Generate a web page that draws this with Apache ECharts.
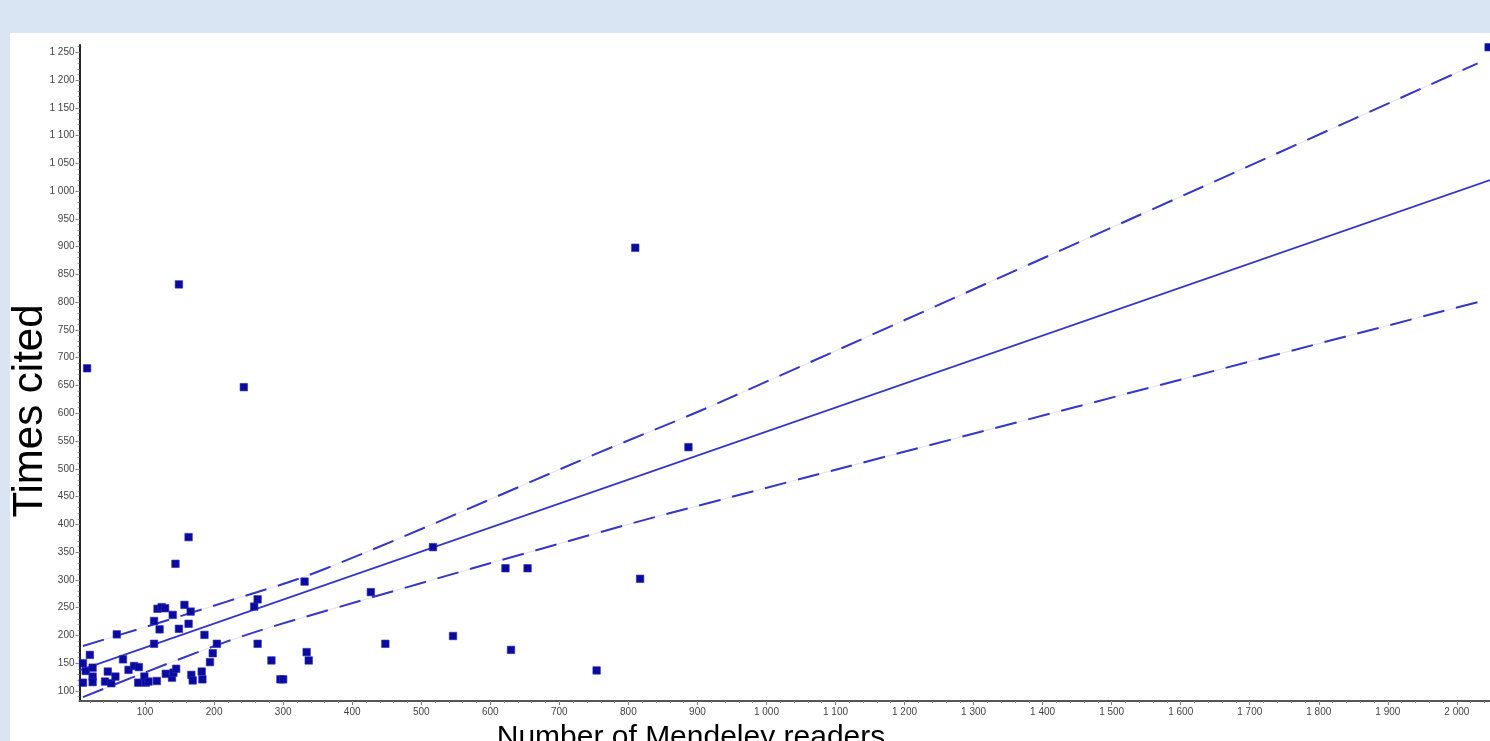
<!DOCTYPE html>
<html>
<head>
<meta charset="utf-8">
<script src="https://cdn.jsdelivr.net/npm/echarts@6/dist/echarts.min.js"></script>
<style>
html,body{margin:0;padding:0;background:#dae5f4;}
#c{width:1490px;height:741px;}
</style>
</head>
<body>
<div id="c"></div>
<script>
// Scatter points: [Mendeley readers, Times cited]
var points = [
  [10,150],[10,115],[14,136],[20,165],[24,142],[24,126],[24,116],[42,117],[46,135],[51,114],
  [57,126],[59,202],[68,157],[76,138],[84,145],[91,143],[90,115],[99,126],[101,115],[105,117],
  [113,185],[113,226],[117,118],[121,211],[118,248],[124,251],[129,249],[130,131],[140,237],[139,124],
  [141,133],[145,140],[144,329],[149,212],[157,255],[163,377],[163,221],[166,243],[167,129],[169,119],
  [182,135],[183,121],[186,201],[194,152],[198,168],[204,185],[258,252],[263,265],[263,185],[283,155],
  [296,121],[300,121],[331,297],[334,170],[337,155],[16,681],[149,832],[243,647],[810,898],[2046,1259],
  [887,539],[817,302],[517,359],[622,321],[654,321],[754,137],[630,174],[546,199],[448,185],[427,278]
];
// Regression line and confidence bands
var fitLine = [[5,137],[2048,1020]];
var upperBand = [[10,181],[216,260],[361,320],[759,530],[933,620],[2030,1230]];
var lowerBand = [[10,89],[216,188],[361,244],[759,386],[933,444],[2030,800]];
// Tick values
var xTicks = [100,200,300,400,500,600,700,800,900,1000,1100,1200,1300,1400,1500,1600,1700,1800,1900,2000];
var yTicks = [100,150,200,250,300,350,400,450,500,550,600,650,700,750,800,850,900,950,1000,1050,1100,1150,1200,1250];
var xMinorTicks = []; for (var i = 20; i <= 2040; i += 20) xMinorTicks.push(i);
var yMinorTicks = []; for (var j = 90; j <= 1260; j += 10) yMinorTicks.push(j);

var xMin = 5, xMax = 2048, yMin = 82, yMax = 1263;

function fmt(v){ return String(v).replace(/\B(?=(\d{3})+(?!\d))/g, ' '); }

var chart = echarts.init(document.getElementById('c'));
var lineColor = '#3535c8';
chart.setOption({
  animation: false,
  backgroundColor: '#dae5f4',
  graphic: [
    {type:'rect', z:-100, shape:{x:10,y:33,width:1480,height:708}, style:{fill:'#ffffff'}, silent:true},
    {type:'text', x:30, y:411, rotation:Math.PI/2, silent:true,
      style:{text:'Times cited', font:'42px "Liberation Sans", Arial, sans-serif', fill:'#000', align:'center', verticalAlign:'middle'}},
    {type:'text', x:691, y:723, silent:true,
      style:{text:'Number of Mendeley readers', font:'30px "Liberation Sans", Arial, sans-serif', fill:'#000', align:'center', verticalAlign:'top'}}
  ],
  grid: {left:79.5, right:0, top:45, bottom:40, containLabel:false},
  xAxis: [
    {type:'value', min:xMin, max:xMax, position:'bottom',
      axisLine:{show:true, lineStyle:{color:'#555', width:2}},
      axisTick:{show:true, customValues:xTicks, length:4, lineStyle:{color:'#777'}},
      axisLabel:{show:true, customValues:xTicks, formatter:fmt, fontSize:10, color:'#444', margin:6, fontFamily:'"Liberation Sans", Arial, sans-serif'},
      splitLine:{show:false}},
    {type:'value', min:xMin, max:xMax, position:'bottom',
      axisLine:{show:false},
      axisTick:{show:true, customValues:xMinorTicks, length:2, lineStyle:{color:'#888'}},
      axisLabel:{show:false}, splitLine:{show:false}}
  ],
  yAxis: [
    {type:'value', min:yMin, max:yMax, position:'left',
      axisLine:{show:true, lineStyle:{color:'#222', width:2}},
      axisTick:{show:true, customValues:yTicks, length:4, lineStyle:{color:'#777'}},
      axisLabel:{show:true, customValues:yTicks, formatter:fmt, fontSize:10, color:'#444', margin:5, fontFamily:'"Liberation Sans", Arial, sans-serif'},
      splitLine:{show:false}},
    {type:'value', min:yMin, max:yMax, position:'left',
      axisLine:{show:false},
      axisTick:{show:true, customValues:yMinorTicks, length:2, lineStyle:{color:'#999'}},
      axisLabel:{show:false}, splitLine:{show:false}}
  ],
  series: [
    {type:'line', data:upperBand, smooth:0.35, showSymbol:false, silent:true, z:1, lineStyle:{color:'#e2e2ea', width:1}},
    {type:'line', data:lowerBand, smooth:0.35, showSymbol:false, silent:true, z:1, lineStyle:{color:'#e2e2ea', width:1}},
    {type:'line', data:upperBand, smooth:0.35, showSymbol:false, silent:true, z:2, lineStyle:{color:lineColor, width:2, type:[22,12]}},
    {type:'line', data:lowerBand, smooth:0.35, showSymbol:false, silent:true, z:2, lineStyle:{color:lineColor, width:2, type:[22,12]}},
    {type:'line', data:fitLine, showSymbol:false, silent:true, z:2, lineStyle:{color:lineColor, width:1.8}},
    {type:'scatter', data:points, symbol:'rect', symbolSize:7.5, z:5, silent:true,
      itemStyle:{color:'#0a0a9c', borderColor:'#2a2ac0', borderWidth:0.6, opacity:1}}
  ]
});
</script>
</body>
</html>
